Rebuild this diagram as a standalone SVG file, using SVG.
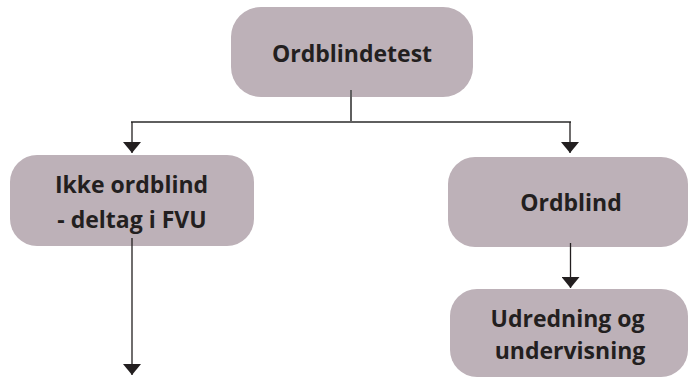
<svg xmlns="http://www.w3.org/2000/svg" width="689" height="379" viewBox="0 0 689 379">
<defs>
<style>
.box{fill:#bdb1b8;}
.lbl{font-family:"Open Sans",Lato,sans-serif;font-weight:bold;font-size:23px;fill:#231f20;text-anchor:middle;}
.ln{stroke:#231f20;stroke-width:1.3;fill:none;}
.hl{stroke:#5f5f5f;stroke-width:2;fill:none;}
</style>
<marker id="ad" viewBox="0 0 18 11" refX="9" refY="11" markerWidth="18" markerHeight="11" markerUnits="userSpaceOnUse" orient="0">
<path d="M0,0 L18,0 L9,11 Z" fill="#231f20"/>
</marker>
</defs>
<g id="n-ordblindetest">
<rect class="box" x="231" y="7" width="242" height="90" rx="30"/>
<text class="lbl" x="352" y="62">Ordblindetest</text>
</g>
<g id="n-ikke">
<rect class="box" x="10" y="155" width="244" height="91" rx="27"/>
<text class="lbl"><tspan x="131.5" y="193">Ikke ordblind</tspan><tspan x="132" y="228">- deltag i FVU</tspan></text>
</g>
<g id="n-ordblind">
<rect class="box" x="448" y="157" width="240" height="90" rx="27"/>
<text class="lbl" x="571" y="211">Ordblind</text>
</g>
<g id="n-udredning">
<rect class="box" x="450" y="289" width="238" height="88" rx="27"/>
<text class="lbl"><tspan x="567.5" y="327">Udredning og</tspan><tspan x="570" y="359">undervisning</tspan></text>
</g>
<g id="connectors">
<line class="hl" x1="351" y1="90" x2="351" y2="122"/>
<line class="hl" x1="131" y1="122" x2="571" y2="122"/>
<path class="ln" d="M132,122 V153" marker-end="url(#ad)"/>
<path class="ln" d="M570,122 V153" marker-end="url(#ad)"/>
<path class="ln" d="M570.5,243 V288" marker-end="url(#ad)"/>
<path class="ln" d="M132,238 V375" marker-end="url(#ad)"/>
</g>
</svg>
